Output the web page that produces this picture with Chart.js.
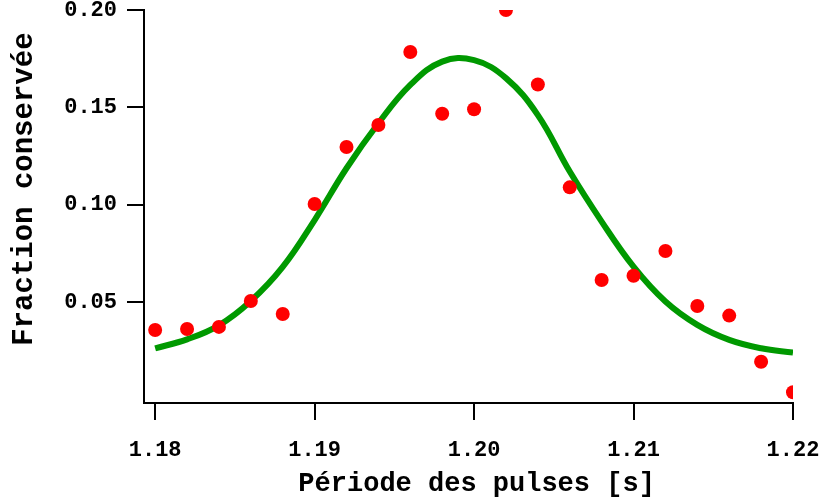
<!DOCTYPE html>
<html>
<head>
<meta charset="utf-8">
<script src="https://cdn.jsdelivr.net/npm/chart.js@4"></script>
<style>
  html, body { margin: 0; padding: 0; background: #fff; }
  #wrap { width: 821px; height: 503px; }
</style>
</head>
<body>
<div id="wrap"><canvas id="resultat" width="821" height="503"></canvas></div>
<script>
// mesures : période des pulses [s] et fraction conservée
let periode = [1.180, 1.182, 1.184, 1.186, 1.188, 1.190, 1.192, 1.194, 1.196, 1.198, 1.200,
               1.202, 1.204, 1.206, 1.208, 1.210, 1.212, 1.214, 1.216, 1.218, 1.220];
let fraction = [0.0356, 0.0361, 0.0372, 0.0505, 0.0438, 0.1003, 0.1296, 0.1409, 0.1784, 0.1467, 0.1490,
                0.2000, 0.1617, 0.1089, 0.0613, 0.0635, 0.0762, 0.0479, 0.0430, 0.0193, 0.0036];

// courbe d'ajustement (gaussienne) relevée point par point
let fitX = [1.180, 1.182, 1.184, 1.186, 1.188, 1.190, 1.192, 1.194, 1.196, 1.198,
            1.200, 1.202, 1.204, 1.206, 1.208, 1.210, 1.212, 1.214, 1.216, 1.218, 1.220];
let fitY = [0.0262, 0.0308, 0.0380, 0.0505, 0.0680, 0.0921, 0.1187, 0.1418, 0.1615, 0.1735,
            0.1742, 0.1650, 0.1460, 0.1170, 0.0913, 0.0681, 0.0502, 0.0382, 0.0305, 0.0262, 0.0240];

let xTicks = [1.18, 1.19, 1.20, 1.21, 1.22];
let yTicks = [0.05, 0.10, 0.15, 0.20];

const police = "'Liberation Mono', 'Courier New', monospace";

ScatterFit('resultat');

function ScatterFit(dst){
    const ctx = document.getElementById(dst).getContext('2d');

    const points = periode.map((p, i) => ({x: p, y: fraction[i]}));
    const courbe = fitX.map((p, i) => ({x: p, y: fitY[i]}));

    new Chart(ctx, {
        type: 'scatter',
        data: {
            datasets: [{
                label: 'ajustement',
                type: 'line',
                data: courbe,
                borderColor: '#009900',
                borderWidth: 6,
                pointRadius: 0,
                fill: false,
                tension: 0.4,
                order: 2
            }, {
                label: 'mesures',
                data: points,
                backgroundColor: '#ff0000',
                borderWidth: 0,
                pointRadius: 7,
                order: 1
            }]
        },
        options: {
            responsive: false,
            animation: false,
            layout: { padding: { top: 10, right: 28, left: 0, bottom: 0 } },
            plugins: { legend: { display: false }, tooltip: { enabled: false } },
            scales: {
                x: {
                    type: 'linear',
                    min: 1.1793,
                    max: 1.22,
                    afterBuildTicks: s => { s.ticks = xTicks.map(v => ({value: v})); },
                    // hauteur fixe, pas de marge auto pour les libellés
                    afterFit: s => { s.height = 100; s.paddingLeft = 0; s.paddingRight = 0; },
                    border: { color: '#000', width: 2 },
                    grid: { drawOnChartArea: false, drawTicks: true, tickLength: 17, color: '#000', lineWidth: 2 },
                    ticks: {
                        color: '#000',
                        padding: 17,
                        maxRotation: 0,
                        font: { family: police, size: 22, weight: 'bold' },
                        callback: v => v.toFixed(2)
                    },
                    title: {
                        display: true,
                        text: ' Période des pulses [s]',
                        color: '#000',
                        padding: { top: 0, bottom: 3 },
                        font: { family: police, size: 27, weight: 'bold' }
                    }
                },
                y: {
                    type: 'linear',
                    min: -0.0019,
                    max: 0.20,
                    afterBuildTicks: s => { s.ticks = yTicks.map(v => ({value: v})); },
                    afterFit: s => { s.width = 144; s.paddingTop = 0; s.paddingBottom = 0; },
                    border: { color: '#000', width: 2 },
                    grid: { drawOnChartArea: false, drawTicks: true, tickLength: 17, color: '#000', lineWidth: 2 },
                    ticks: {
                        color: '#000',
                        padding: 10,
                        font: { family: police, size: 22, weight: 'bold' },
                        callback: v => v.toFixed(2)
                    },
                    title: {
                        display: true,
                        text: '  Fraction conservée',
                        color: '#000',
                        padding: { top: 7, bottom: 0 },
                        font: { family: police, size: 29, weight: 'bold' }
                    }
                }
            }
        }
    });
}
</script>
</body>
</html>
